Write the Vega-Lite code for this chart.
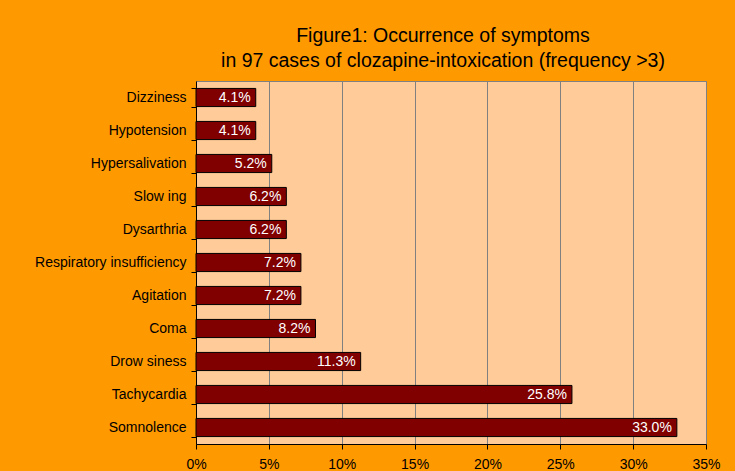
{
  "$schema": "https://vega.github.io/schema/vega-lite/v6.json",
  "autosize": {"type": "none"},
  "width": 510,
  "height": 363,
  "padding": {"left": 196, "top": 81, "right": 29, "bottom": 27},
  "background": "#FF9900",
  "title": {
    "text": ["Figure1: Occurrence of symptoms", "in 97 cases of clozapine-intoxication (frequency >3)"],
    "font": "Liberation Sans",
    "fontSize": 19.5,
    "fontWeight": "normal",
    "color": "#000000",
    "anchor": "middle",
    "lineHeight": 25,
    "offset": 3,
    "dx": -8
  },
  "config": {
    "view": {"fill": "#FFCC99", "stroke": "#808080", "strokeWidth": 1},
    "font": "Liberation Sans"
  },
  "data": {
    "values": [
      {"symptom": "Dizziness", "value": 0.041},
      {"symptom": "Hypotension", "value": 0.041},
      {"symptom": "Hypersalivation", "value": 0.052},
      {"symptom": "Slow ing", "value": 0.062},
      {"symptom": "Dysarthria", "value": 0.062},
      {"symptom": "Respiratory insufficiency", "value": 0.072},
      {"symptom": "Agitation", "value": 0.072},
      {"symptom": "Coma", "value": 0.082},
      {"symptom": "Drow siness", "value": 0.113},
      {"symptom": "Tachycardia", "value": 0.258},
      {"symptom": "Somnolence", "value": 0.33}
    ]
  },
  "encoding": {
    "y": {
      "field": "symptom",
      "type": "nominal",
      "sort": null,
      "title": null,
      "scale": {"paddingInner": 0.45, "paddingOuter": 0.225},
      "axis": {
        "domainColor": "#000000",
        "tickColor": "#000000",
        "tickBand": "extent",
        "tickSize": 5,
        "labelFontSize": 14,
        "labelColor": "#000000",
        "labelPadding": 5
      }
    },
    "x": {
      "field": "value",
      "type": "quantitative",
      "title": null,
      "scale": {"domain": [0, 0.35], "nice": false},
      "axis": {
        "format": ".0%",
        "values": [0, 0.05, 0.1, 0.15, 0.2, 0.25, 0.3, 0.35],
        "grid": true,
        "gridColor": "#808080",
        "gridOpacity": 1,
        "domainColor": "#000000",
        "tickColor": "#000000",
        "tickSize": 5,
        "labelFontSize": 14,
        "labelColor": "#000000",
        "labelPadding": 8,
        "labelFlush": false
      }
    }
  },
  "layer": [
    {
      "mark": {"type": "bar", "fill": "#800000", "stroke": "#000000", "strokeWidth": 1}
    },
    {
      "mark": {"type": "text", "align": "right", "dx": -5, "color": "#FFFFFF", "fontSize": 14},
      "encoding": {"text": {"field": "value", "type": "quantitative", "format": ".1%"}}
    }
  ]
}
